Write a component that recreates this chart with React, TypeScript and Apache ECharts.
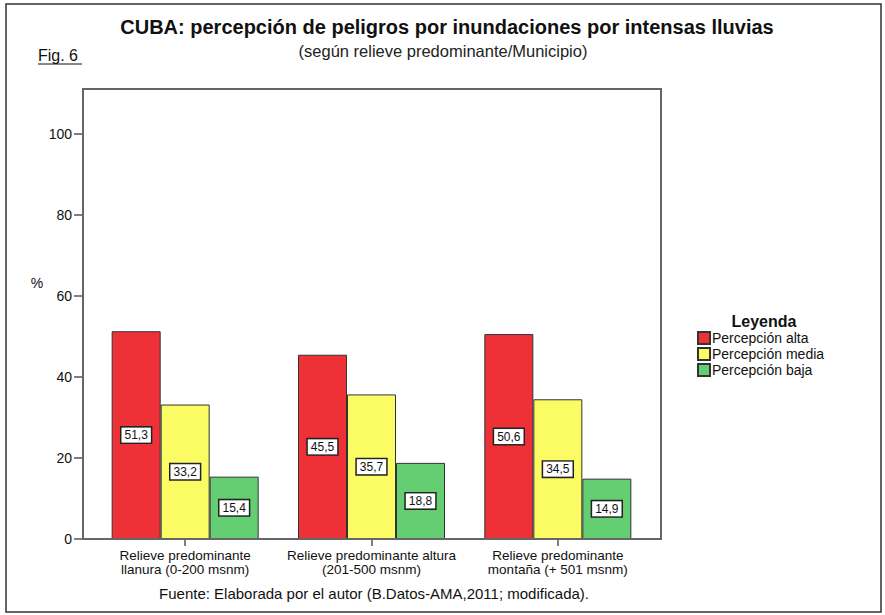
import React, { useEffect, useRef } from "react";
import * as echarts from "echarts";

const categories = [
  "Relieve predominante\nllanura (0-200 msnm)",
  "Relieve predominante altura\n(201-500 msnm)",
  "Relieve predominante\nmontaña (+ 501 msnm)",
];
const seriesNames = ["Percepción alta", "Percepción media", "Percepción baja"];
const alta = [51.3, 45.5, 50.6];
const media = [33.2, 35.7, 34.5];
const baja = [15.4, 18.8, 14.9];
const colors = ["#ee3136", "#fbfb63", "#63cf72"];

const FONT = "'Liberation Sans', Arial, Helvetica, sans-serif";

export default function App() {
  const ref = useRef<HTMLDivElement>(null);
  useEffect(() => {
    if (!ref.current) return;
    const chart = echarts.init(ref.current, null, { renderer: "svg" });
    const mk = (name: string, data: number[], color: string) => ({
      name,
      type: "bar",
      data,
      barWidth: 49,
      barGap: "0%",
      itemStyle: { color, borderColor: "#333", borderWidth: 1 },
      label: {
        show: true,
        position: "inside",
        formatter: (p: any) => p.value.toFixed(1).replace(".", ","),
        fontFamily: FONT,
        fontSize: 12,
        color: "#111",
        backgroundColor: "#fff",
        borderColor: "#222",
        borderWidth: 1.5,
        padding: [2, 3, 1, 3],
      },
    });
    chart.setOption({
      animation: false,
      backgroundColor: "#fff",
      textStyle: { fontFamily: FONT },
      grid: { left: 92, right: 234, top: 134, bottom: 76 },
      legend: {
        orient: "vertical",
        left: 697,
        top: 331,
        padding: 0,
        itemWidth: 12,
        itemHeight: 12,
        itemGap: 2,
        icon: "rect",
        textStyle: { fontFamily: FONT, fontSize: 14, lineHeight: 14, color: "#111", padding: [0, 0, 0, -3] },
        data: seriesNames,
      },
      xAxis: {
        type: "category",
        data: categories,
        axisLine: { show: false },
        axisTick: { show: true, alignWithLabel: true, length: 7, lineStyle: { color: "#555", width: 1.5 } },
        axisLabel: { interval: 0, fontFamily: FONT, fontSize: 13.5, color: "#111", lineHeight: 13.5, margin: 10 },
      },
      yAxis: {
        type: "value",
        min: 0,
        max: 100,
        interval: 20,
        offset: 9,
        splitLine: { show: false },
        axisLine: { show: false },
        axisTick: { show: true, length: 9, lineStyle: { color: "#555", width: 1.5 } },
        axisLabel: { fontFamily: FONT, fontSize: 14, color: "#111", margin: 11 },
      },
      graphic: [
        {
          type: "rect",
          shape: { x: 6, y: 4, width: 875, height: 608 },
          style: { fill: "none", stroke: "#333", lineWidth: 1.5 },
          silent: true,
        },
        {
          type: "rect",
          shape: { x: 83, y: 89, width: 578, height: 450 },
          style: { fill: "none", stroke: "#666", lineWidth: 2 },
          silent: true,
          z: 10,
        },
        {
          type: "text",
          x: 447,
          y: 27,
          style: {
            text: "CUBA: percepción de peligros por inundaciones por intensas lluvias",
            font: `bold 20px ${FONT}`,
            fill: "#111",
            align: "center",
            verticalAlign: "middle",
          },
        },
        {
          type: "text",
          x: 443,
          y: 51,
          style: {
            text: "(según relieve predominante/Municipio)",
            font: `16.5px ${FONT}`,
            fill: "#222",
            align: "center",
            verticalAlign: "middle",
          },
        },
        {
          type: "text",
          x: 38,
          y: 55,
          style: {
            text: "Fig. 6",
            font: `16px ${FONT}`,
            fill: "#111",
            align: "left",
            verticalAlign: "middle",
          },
        },
        {
          type: "line",
          shape: { x1: 38, y1: 64, x2: 82, y2: 64 },
          style: { stroke: "#111", lineWidth: 1 },
        },
        {
          type: "text",
          x: 37,
          y: 283,
          style: {
            text: "%",
            font: `14px ${FONT}`,
            fill: "#111",
            align: "center",
            verticalAlign: "middle",
          },
        },
        {
          type: "text",
          x: 764,
          y: 321,
          style: {
            text: "Leyenda",
            font: `bold 16px ${FONT}`,
            fill: "#111",
            align: "center",
            verticalAlign: "middle",
          },
        },
        {
          type: "text",
          x: 374,
          y: 593,
          style: {
            text: "Fuente: Elaborada por el autor (B.Datos-AMA,2011; modificada).",
            font: `15px ${FONT}`,
            fill: "#111",
            align: "center",
            verticalAlign: "middle",
          },
        },
      ],
      series: [mk(seriesNames[0], alta, colors[0]), mk(seriesNames[1], media, colors[1]), mk(seriesNames[2], baja, colors[2])],
    });
    return () => chart.dispose();
  }, []);
  return <div ref={ref} style={{ position: "absolute", left: 0, top: 0, width: 885, height: 615 }} />;
}
